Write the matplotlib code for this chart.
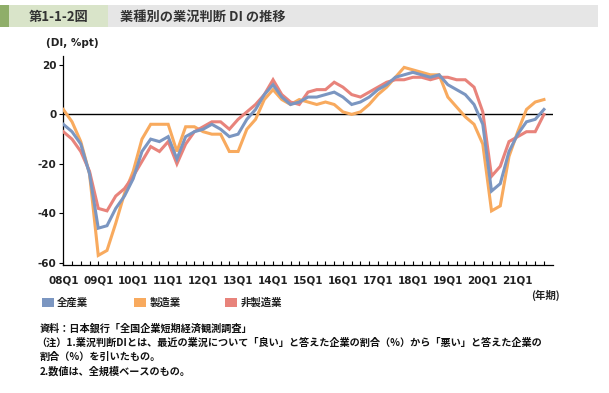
import matplotlib
matplotlib.use("Agg")
import matplotlib.pyplot as plt
from matplotlib.patches import Rectangle

plt.rcParams['font.family'] = ['Noto Sans CJK JP', 'DejaVu Sans']

# Quarterly data 2008Q1 - 2021Q4
all_ind = [-4, -7, -12, -24, -46, -45, -38, -33, -26, -15, -10, -11, -9, -18, -9, -7,
           -6, -4, -6, -9, -8, -2, 2, 8, 12, 7, 4, 5, 7, 7, 8, 9,
           7, 4, 5, 7, 10, 12, 15, 16, 17, 16, 15, 16, 12, 10, 8, 4,
           -4, -31, -28, -15, -8, -3, -2, 2]
manuf = [2, -3, -11, -24, -57, -55, -44, -32, -23, -10, -4, -4, -4, -15, -5, -5,
         -7, -8, -8, -15, -15, -6, -2, 6, 10, 6, 4, 6, 5, 4, 5, 4,
         1, 0, 1, 4, 8, 11, 15, 19, 18, 17, 16, 16, 7, 3, -1, -4,
         -12, -39, -37, -17, -7, 2, 5, 6]
nonmanuf = [-7, -10, -15, -23, -38, -39, -33, -30, -25, -19, -13, -15, -11, -20, -12, -7,
            -5, -3, -3, -6, -2, 1, 4, 8, 14, 8, 5, 4, 9, 10, 10, 13,
            11, 8, 7, 9, 11, 13, 14, 14, 15, 15, 14, 15, 15, 14, 14, 11,
            1, -25, -21, -11, -9, -7, -7, 0]
year_labels = ['08Q1', '09Q1', '10Q1', '11Q1', '12Q1', '13Q1', '14Q1',
               '15Q1', '16Q1', '17Q1', '18Q1', '19Q1', '20Q1', '21Q1']
series_names = ['全産業', '製造業', '非製造業']
colors = ['#7b96c1', '#f8aa5e', '#e8837b']

W, H = 609, 393
fig = plt.figure(figsize=(W / 100, H / 100), dpi=100)

def fx(x):
    return x / W

def fy(y):
    return 1 - y / H

# Title bar
fig.patches.append(Rectangle((fx(0), fy(27)), fx(9), 22 / H, transform=fig.transFigure,
                             facecolor='#8fae69', edgecolor='none'))
fig.patches.append(Rectangle((fx(9), fy(27)), fx(99), 22 / H, transform=fig.transFigure,
                             facecolor='#d9e4c9', edgecolor='none'))
fig.patches.append(Rectangle((fx(108), fy(27)), fx(490), 22 / H, transform=fig.transFigure,
                             facecolor='#e6e6e6', edgecolor='none'))
fig.text(fx(59), fy(16.5), '第1-1-2図', ha='center', va='center', fontsize=9.5,
         fontweight='bold', color='#333333')
fig.text(fx(120), fy(16.5), '業種別の業況判断 DI の推移', ha='left', va='center', fontsize=9.5,
         fontweight='bold', color='#333333')

# Axes
ax = fig.add_axes([fx(63.3), fy(265.3), (552.7 - 63.3) / W, (265.3 - 56) / H])
x = list(range(len(all_ind)))
ax.plot(x, manuf, color=colors[1], lw=2.2, solid_joinstyle='miter', zorder=3)
ax.plot(x, nonmanuf, color=colors[2], lw=2.2, solid_joinstyle='miter', zorder=3)
ax.plot(x, all_ind, color=colors[0], lw=2.2, solid_joinstyle='miter', zorder=4)
ax.axhline(0, color='black', lw=1.0, zorder=2)

ax.set_xlim(0, 56)
ax.set_ylim(-61, 23.6)
for s in ['top', 'right']:
    ax.spines[s].set_visible(False)
for s in ['left', 'bottom']:
    ax.spines[s].set_linewidth(0.9)
    ax.spines[s].set_color('black')

ax.set_yticks([20, 0, -20, -40, -60])
ax.set_yticklabels(['20', '0', '-20', '-40', '-60'])
ax.set_xticks([4 * i for i in range(len(year_labels))])
ax.set_xticklabels(year_labels)
ax.set_xticks(range(0, 56), minor=True)
ax.tick_params(axis='y', direction='out', length=3, width=0.8, pad=2, labelsize=7.5)
ax.tick_params(axis='x', which='both', direction='in', length=3, width=0.8, pad=7,
               labelsize=7.5)
for lab in ax.get_xticklabels() + ax.get_yticklabels():
    lab.set_family('DejaVu Sans')
    lab.set_fontweight('bold')
    lab.set_color('#222222')

fig.text(fx(72), fy(43), '(DI, %pt)', ha='center', va='center', fontsize=7.5,
         family='DejaVu Sans', fontweight='bold', color='#222222')
fig.text(fx(560), fy(295), '(年期)', ha='right', va='center', fontsize=7.5,
         fontweight='bold', color='#222222')

# Legend
leg_x = [41.7, 134, 225]
for lx, name, c in zip(leg_x, series_names, colors):
    fig.patches.append(Rectangle((fx(lx), fy(307.3)), 12 / W, 9.6 / H,
                                 transform=fig.transFigure, facecolor=c, edgecolor='none'))
    fig.text(fx(lx + 15.5), fy(302.5), name, ha='left', va='center', fontsize=7.5,
             fontweight='bold', color='#222222')

notes = [
    (40, 329, '資料：日本銀行「全国企業短期経済観測調査」'),
    (36, 343, '（注）1.業況判断DIとは、最近の業況について「良い」と答えた企業の割合（%）から「悪い」と答えた企業の'),
    (40, 357, '割合（%）を引いたもの。'),
    (40, 372, '2.数値は、全規模ベースのもの。'),
]
for nx, ny, t in notes:
    fig.text(fx(nx), fy(ny), t, ha='left', va='center', fontsize=7.3,
             fontweight='bold', color='#111111')

fig.savefig('out.png', dpi=100)
